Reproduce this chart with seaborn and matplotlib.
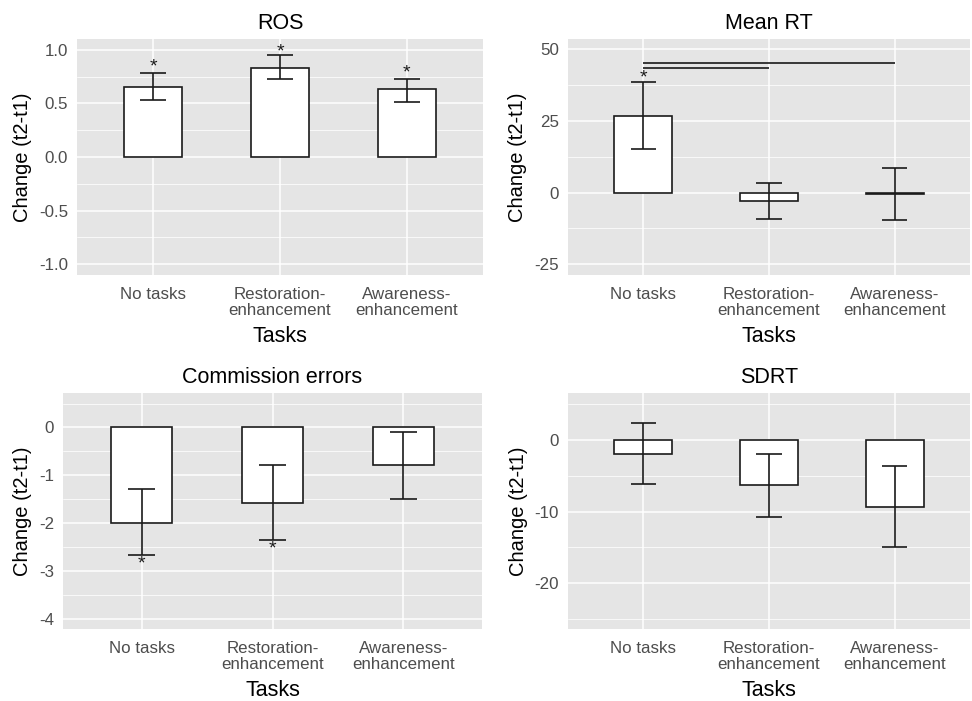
import matplotlib
matplotlib.use("Agg")
import matplotlib.pyplot as plt
import seaborn as sns
import numpy as np
from matplotlib.ticker import FixedLocator

# ---------------- data ----------------
categories = ["No tasks", "Restoration-\nenhancement", "Awareness-\nenhancement"]

ros_mean = [0.65, 0.83, 0.63]
ros_low = [0.53, 0.73, 0.51]
ros_high = [0.78, 0.95, 0.73]
ros_star_y = [0.87, 1.01, 0.81]

rt_mean = [26.8, -2.9, -0.4]
rt_low = [15.3, -9.2, -9.6]
rt_high = [38.5, 3.4, 8.7]
rt_star_y = [41.0, None, None]
rt_bracket_y = [43.4, 45.3]   # No tasks vs Restoration, No tasks vs Awareness
rt_bracket_to = [1, 2]

ce_mean = [-1.99, -1.58, -0.78]
ce_low = [-2.67, -2.35, -1.49]
ce_high = [-1.29, -0.78, -0.09]
ce_star_y = [-2.78, -2.47, None]

sd_mean = [-1.95, -6.32, -9.39]
sd_low = [-6.14, -10.74, -14.96]
sd_high = [2.37, -1.91, -3.67]
sd_star_y = [None, None, None]

titles = ["ROS", "Mean RT", "Commission errors", "SDRT"]
ylims = [(-1.1, 1.1), (-28.7, 53.5), (-4.21, 0.72), (-26.4, 6.6)]
yticks_major = [[-1.0, -0.5, 0.0, 0.5, 1.0], [-25, 0, 25, 50], [-4, -3, -2, -1, 0], [-20, -10, 0]]
yticks_minor = [[-0.75, -0.25, 0.25, 0.75], [-12.5, 12.5, 37.5], [-3.5, -2.5, -1.5, -0.5, 0.5], [-25, -15, -5, 5]]
ytick_labels = [["-1.0", "-0.5", "0.0", "0.5", "1.0"], ["-25", "0", "25", "50"],
                ["-4", "-3", "-2", "-1", "0"], ["-20", "-10", "0"]]

# ---------------- style ----------------
sns.set_style("white")
plt.rcParams["font.family"] = ["Liberation Sans", "DejaVu Sans"]
plt.rcParams["axes.unicode_minus"] = False

fig = plt.figure(figsize=(9.72, 7.01), dpi=100)
W, H = 972, 701

def px_axes(x0, y0, x1, y1):
    return fig.add_axes([x0 / W, 1 - y1 / H, (x1 - x0) / W, (y1 - y0) / H])

axes = [
    px_axes(77, 39, 483, 275),
    px_axes(568, 39, 970, 275),
    px_axes(63, 393, 482, 629),
    px_axes(568, 393, 970, 629),
]

panels = [
    (ros_mean, ros_low, ros_high, ros_star_y),
    (rt_mean, rt_low, rt_high, rt_star_y),
    (ce_mean, ce_low, ce_high, ce_star_y),
    (sd_mean, sd_low, sd_high, sd_star_y),
]

BG = "#E5E5E5"
for i, (ax, (mean, low, high, stars)) in enumerate(zip(axes, panels)):
    ax.set_facecolor(BG)
    ax.set_axisbelow(True)
    for s in ax.spines.values():
        s.set_visible(False)

    sns.barplot(x=categories, y=mean, ax=ax, color="white", edgecolor="#1a1a1a",
                linewidth=1.2, width=0.46, saturation=1, errorbar=None, zorder=3)

    xs = np.arange(len(categories))
    ax.vlines(xs, low, high, color="#1a1a1a", linewidth=1.2, zorder=4)
    ax.hlines(low, xs - 0.1, xs + 0.1, color="#1a1a1a", linewidth=1.2, zorder=4)
    ax.hlines(high, xs - 0.1, xs + 0.1, color="#1a1a1a", linewidth=1.2, zorder=4)

    for x, sy in zip(xs, stars):
        if sy is not None:
            ax.annotate("*", xy=(x, sy), xytext=(0, -5.5), textcoords="offset points",
                        ha="center", va="baseline", fontsize=14, color="#1a1a1a", zorder=5)

    ax.set_xlim(-0.6, 2.6)
    ax.set_ylim(*ylims[i])
    ax.yaxis.set_major_locator(FixedLocator(yticks_major[i]))
    ax.set_yticklabels(ytick_labels[i])
    ax.yaxis.set_minor_locator(FixedLocator(yticks_minor[i]))
    ax.grid(which="major", color="white", linewidth=1.1)
    ax.grid(which="minor", axis="y", color="white", linewidth=0.55)
    ax.tick_params(which="major", length=3.5, width=1.0, color="#333333",
                   labelcolor="#4D4D4D", labelsize=12.2, pad=3)
    ax.tick_params(axis="x", pad=5)
    ax.tick_params(which="minor", length=0)
    for lab in ax.get_xticklabels():
        lab.set_linespacing(1.1)

    ax.set_title(titles[i], fontsize=15.5, color="black", pad=7)
    ax.set_xlabel("Tasks", fontsize=15.5, color="black", labelpad=5.5)
    ax.set_ylabel("Change (t2-t1)", fontsize=14.5, color="black", labelpad=5)

# significance brackets on Mean RT
for by, to in zip(rt_bracket_y, rt_bracket_to):
    axes[1].hlines(by, 0, to, color="#1a1a1a", linewidth=1.2, zorder=5)

fig.savefig("out.png", dpi=100)
